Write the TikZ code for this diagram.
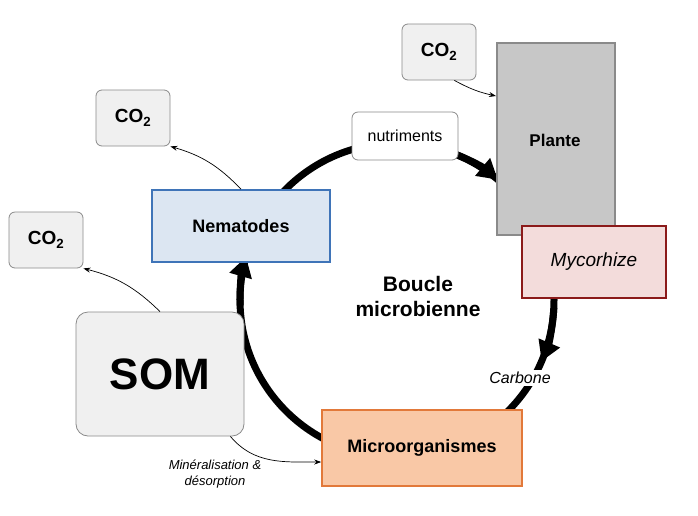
\documentclass[tikz,border=0pt]{standalone}
\usepackage{fontspec}
\setmainfont{Liberation Sans}
\usetikzlibrary{arrows.meta}
\definecolor{gbox}{HTML}{F0F0F0}
\definecolor{gline}{HTML}{8A8A8A}
\definecolor{nefill}{HTML}{DCE6F2}
\definecolor{neline}{HTML}{3F74B8}
\definecolor{myfill}{HTML}{F3DCDB}
\definecolor{myline}{HTML}{8B1A1A}
\definecolor{mifill}{HTML}{F9C8A6}
\definecolor{miline}{HTML}{E2793A}
\begin{document}
\begin{tikzpicture}[x=1pt,y=-1pt,
  co/.style={draw=gline,fill=gbox,rounded corners=6pt,line width=0.8pt,minimum width=74pt,minimum height=56pt,font=\fontsize{19}{21}\selectfont\bfseries},
  bx/.style={line width=1.6pt,font=\fontsize{18}{20}\selectfont\bfseries},
  thin/.style={-{Stealth[length=7pt,width=5pt]},line width=0.7pt},
  big/.style={line width=7pt,-{Triangle[length=20pt,width=22pt]}}]
\useasboundingbox (0,0) rectangle (698,515);
\fill[white] (0,0) rectangle (698,515);
% loop
\draw[line width=7pt] (397,300) circle[radius=157];
\draw[big] (397,300) ++(-72:157) arc[start angle=-72,end angle=-50,radius=157];
\draw[big] (397,300) ++(3:157) arc[start angle=3,end angle=23,radius=157];
\draw[big] (397,300) ++(178:157) arc[start angle=178,end angle=196,radius=157];
% nodes
\node[co] (c1) at (133,118) {CO\textsubscript{2}};
\node[co] (c2) at (46,240) {CO\textsubscript{2}};
\node[co] (c3) at (439,52) {CO\textsubscript{2}};
\node[draw=gline,fill=black!22,line width=1.6pt,minimum width=118pt,minimum height=192pt,anchor=north west] (pl) at (496,42) {};
\node[font=\fontsize{17}{19}\selectfont\bfseries] (plt) at (555,140) {Plante};
\node[bx,draw=myline,fill=myfill,minimum width=144pt,minimum height=72pt,font=\fontsize{19}{21}\selectfont\itshape] (my) at (594,262) {Mycorhize};
\node[bx,draw=neline,fill=nefill,minimum width=178pt,minimum height=72pt] (ne) at (241,226) {Nematodes};
\node[draw=gline,fill=gbox,rounded corners=12pt,line width=0.8pt,minimum width=168pt,minimum height=124pt,font=\fontsize{44}{48}\selectfont\bfseries] (som) at (160,374) {SOM};
\node[bx,draw=miline,fill=mifill,minimum width=200pt,minimum height=76pt] (mi) at (422,448) {Microorganismes};
\node[draw=gline,fill=white,rounded corners=6pt,line width=0.8pt,minimum width=106pt,minimum height=48pt,font=\fontsize{16}{18}\selectfont] (nu) at (405,136) {nutriments};
\node[fill=white,inner sep=2pt,font=\fontsize{16}{18}\selectfont\itshape] (ca) at (520,378) {Carbone};
\node[align=center,font=\fontsize{21}{25}\selectfont\bfseries] (bm) at (418,296) {Boucle\\microbienne};
\node[align=center,font=\fontsize{13}{16}\selectfont\itshape] (mdl) at (215,474) {Minéralisation \&\\désorption};
% thin arrows
\draw[thin] (ne.north) to[bend right=15] (c1.south east);
\draw[thin] (som.north) to[bend right=15] (c2.south east);
\draw[thin] ([xshift=-22pt]c3.south east) to[bend right=8] ([yshift=-54pt]pl.north west);
\draw[thin] ([xshift=-14pt]som.south east) to[out=-50,in=180] ([yshift=-14pt]mi.west);
\end{tikzpicture}
\end{document}
